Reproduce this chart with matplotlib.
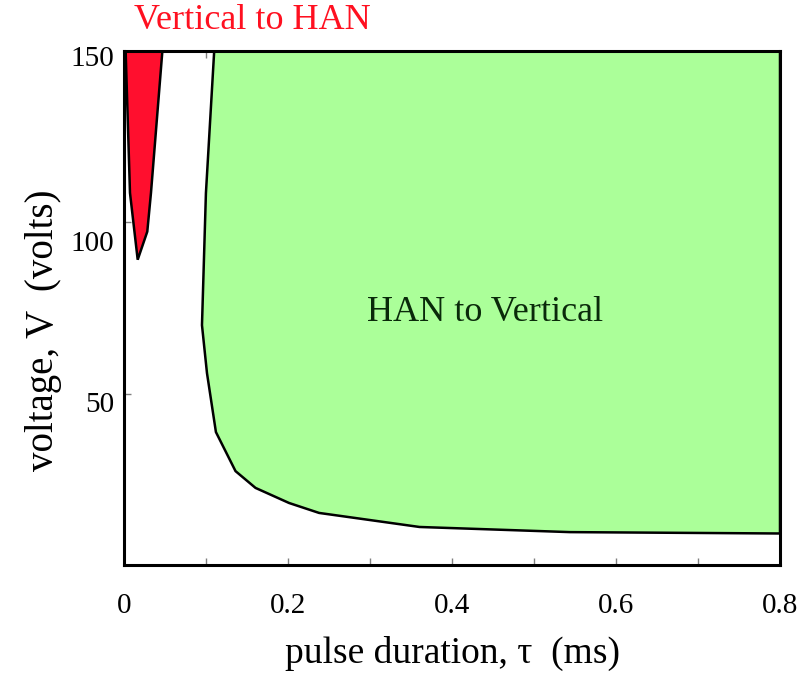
#!/usr/bin/env python3
"""Switching regions in the (pulse duration, voltage) plane."""
import matplotlib
matplotlib.use("Agg")
import matplotlib.pyplot as plt
from matplotlib.ticker import MultipleLocator
from matplotlib.transforms import ScaledTranslation

# boundary of the Vertical -> HAN region (tau in ms, V in volts)
v2h_tau = [0.002, 0.0073, 0.0167, 0.0284, 0.0329, 0.0468]
v2h_volt = [150, 108.6, 89.1, 97.3, 108.6, 150]

# boundary of the HAN -> Vertical region
h2v_tau = [0.110, 0.0999, 0.0951, 0.1012, 0.1121, 0.1360, 0.1604, 0.2013, 0.2379, 0.3604, 0.5439, 0.80]
h2v_volt = [150, 108.5, 70.0, 56.0, 38.8, 27.4, 22.5, 18.1, 15.2, 11.1, 9.6, 9.2]

xticks = [0, 0.2, 0.4, 0.6, 0.8]
xticklabels = ["0", "0.2", "0.4", "0.6", "0.8"]
yticks = [50, 100, 150]
yticklabels = ["50", "100", "150"]

SERIF = ["Liberation Serif", "DejaVu Serif"]
plt.rcParams["font.family"] = SERIF

fig = plt.figure(figsize=(8.01, 6.74), dpi=100)
ax = fig.add_axes([0.1548, 0.1617, 0.8190, 0.7626])

# closed polygons: red region hugs the left axis, green one fills to the right/top edges
ax.fill(v2h_tau + [0.0], v2h_volt + [150], facecolor="#ff0f2e", edgecolor="black", linewidth=1.8, zorder=2)
ax.fill(h2v_tau + [0.8, 0.8], h2v_volt + [150, 150], facecolor="#abff99", edgecolor="black", linewidth=1.8, zorder=2)

ax.set_xlim(0, 0.8)
ax.set_ylim(0, 150)
ax.set_xticks(xticks)
ax.set_xticklabels(xticklabels)
ax.set_yticks(yticks)
ax.set_yticklabels(yticklabels)
ax.xaxis.set_minor_locator(MultipleLocator(0.1))
ax.tick_params(which="both", direction="in", top=True, right=True, color="#808080", width=1.0, length=5)
ax.tick_params(which="major", labelsize=21)
ax.tick_params(axis="x", which="major", pad=20)
ax.tick_params(axis="y", which="major", pad=7)
for sp in ax.spines.values():
    sp.set_linewidth(2.2)
    sp.set_zorder(5)

# y labels sit a little below their ticks
for lab, dy in zip(ax.get_yticklabels(), [0.08, 0.19, 0.05]):
    lab.set_transform(lab.get_transform() + ScaledTranslation(0, -dy, fig.dpi_scale_trans))

ax.set_xlabel("pulse duration, \u03c4  (ms)", fontsize=27)
ax.xaxis.set_label_coords(0.5, -0.137)
ax.set_ylabel("voltage, V  (volts)", fontsize=28)
ax.yaxis.set_label_coords(-0.094, 0.457)

ax.text(0.44, 73.8, "HAN to Vertical", fontsize=26, color="#0a2a0a", ha="center", va="center",
        family=SERIF, zorder=3)
ax.text(0.157, 159, "Vertical to HAN", fontsize=26, color="#ff1020", ha="center", va="center",
        family=SERIF, clip_on=False)

fig.savefig("out.png", dpi=100)
